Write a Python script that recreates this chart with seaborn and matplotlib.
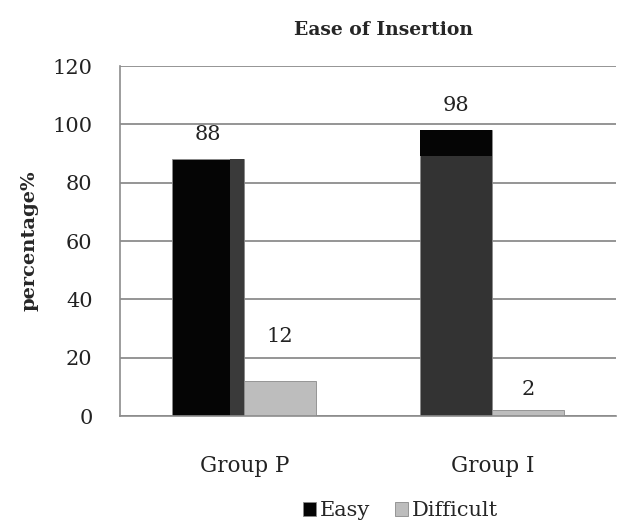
import matplotlib
matplotlib.use("Agg")
import matplotlib.pyplot as plt
from matplotlib.patches import Rectangle
import seaborn as sns
import pandas as pd

groups = ["Group P", "Group I"]
series = ["Easy", "Difficult"]
easy = [88, 98]
difficult = [12, 2]
yticks = [0, 20, 40, 60, 80, 100, 120]

df = pd.DataFrame({
    "group": groups * 2,
    "series": [series[0]] * 2 + [series[1]] * 2,
    "value": easy + difficult,
})

sns.set_theme(style="white")
plt.rcParams["font.family"] = ["DejaVu Serif"]

fig = plt.figure(figsize=(6.2, 5.24), dpi=100)
ax = fig.add_axes([0.194, 0.206, 0.80, 0.668])

palette = {"Easy": "#050505", "Difficult": "#bdbdbd"}
sns.barplot(data=df, x="group", y="value", hue="series", order=groups,
            hue_order=series, palette=palette, width=0.58, gap=0,
            saturation=1, edgecolor="#8a8a8a", linewidth=0.6, ax=ax,
            legend=True)

easy_bars = ax.containers[0]
diff_bars = ax.containers[1]

# shading on the "Easy" bars: a dark side strip on the first, a black cap on the second
b0 = easy_bars[0]
strip_w = b0.get_width() * 0.2
ax.add_patch(Rectangle((b0.get_x() + b0.get_width() - strip_w, 0), strip_w,
                       b0.get_height(), facecolor="#3a3a3a", edgecolor="none",
                       zorder=b0.get_zorder() + 0.1))
b1 = easy_bars[1]
b1.set_facecolor("#333333")
cap = 9
ax.add_patch(Rectangle((b1.get_x(), b1.get_height() - cap), b1.get_width(), cap,
                       facecolor="#050505", edgecolor="none",
                       zorder=b1.get_zorder() + 0.1))

ax.set_ylim(0, 120)
ax.set_xlim(-0.5, 1.5)
ax.set_yticks(yticks)
ax.set_yticklabels([str(t) for t in yticks], fontsize=15, color="#222222")
ax.yaxis.grid(True, color="#8c8c8c", linewidth=1.3)
ax.set_axisbelow(True)

ax.set_xticks([-0.5, 0.5, 1.5], minor=False)
ax.set_xticklabels([])
ax.set_xticks([0, 1], minor=True)
ax.set_xticklabels(groups, minor=True, fontsize=15.5, color="#222222")
ax.tick_params(axis="x", which="minor", length=0, pad=28)
ax.tick_params(axis="x", which="major", length=6, color="#8c8c8c", width=1.2, direction="out")
ax.tick_params(axis="y", length=6, color="#8c8c8c", width=1.2, direction="out", pad=14)
ax.set_xlabel("")
ax.set_ylabel("percentage%", fontsize=14, fontweight="bold", labelpad=10)

for side in ["top", "right"]:
    ax.spines[side].set_visible(False)
for side in ["left", "bottom"]:
    ax.spines[side].set_color("#8c8c8c")
    ax.spines[side].set_linewidth(1.2)

# value labels above each bar
pads = {88: 11, 98: 11, 12: 25, 2: 8}
for bars in (easy_bars, diff_bars):
    for b in bars:
        v = b.get_height()
        ax.annotate(f"{v:g}", (b.get_x() + b.get_width() / 2, v),
                    xytext=(0, pads.get(int(v), 10)), textcoords="offset points",
                    ha="center", va="bottom", fontsize=15, color="#222222")

ax.set_title("Ease of Insertion", fontsize=13.5, fontweight="bold", pad=22, x=0.53)

leg = ax.legend(loc="upper center", bbox_to_anchor=(0.565, -0.19), ncol=2,
                frameon=False, fontsize=15, handlelength=0.6, handleheight=0.6,
                handletextpad=0.2, columnspacing=1.2)

fig.savefig("out.png", dpi=100, facecolor="white")
